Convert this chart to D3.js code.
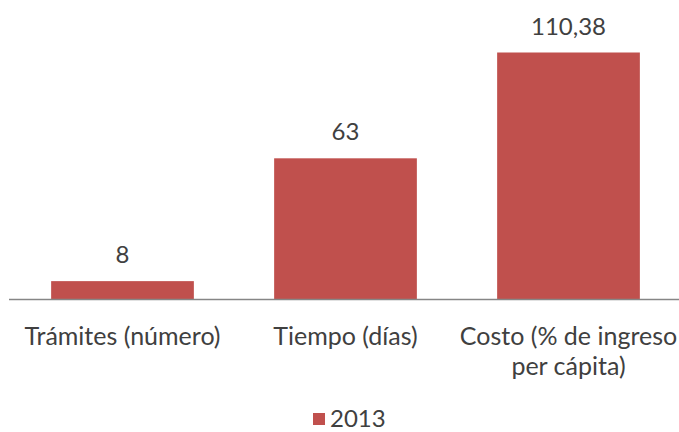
<!DOCTYPE html>
<html>
<head>
<meta charset="utf-8">
<script src="https://cdnjs.cloudflare.com/ajax/libs/d3/7.8.5/d3.min.js"></script>
<style>
  body { margin: 0; background: #fff; }
  svg text { font-family: Lato, "Open Sans", sans-serif; fill: #404040; }
</style>
</head>
<body>
<svg id="chart" width="679" height="432"></svg>
<script>
// chart data
var categories = [["Trámites (número)"], ["Tiempo (días)"], ["Costo (% de ingreso", "per cápita)"]];
var values = [8, 63, 110.38];
var labels = ["8", "63", "110,38"];
var seriesName = "2013";

var svg = d3.select("#chart"),
    left = 11,
    right = 680,
    baseY = 299,
    topY = 52.5;

var x = d3.scaleBand()
    .domain(d3.range(values.length))
    .range([left, right])
    .paddingInner(0.36)
    .paddingOuter(0.18);

var y = d3.scaleLinear()
    .domain([0, 110.38])
    .range([baseY, topY]);

var color = "#C0504D";

// bars
svg.append("g").selectAll("rect")
    .data(values)
    .enter()
    .append("rect")
    .attr("x", function(d, i){ return x(i); })
    .attr("y", function(d){ return y(d); })
    .attr("width", x.bandwidth())
    .attr("height", function(d){ return baseY - y(d); })
    .style("fill", color);

// value labels
svg.append("g").selectAll("text")
    .data(values)
    .enter()
    .append("text")
    .attr("x", function(d, i){ return x(i) + x.bandwidth()/2; })
    .attr("y", function(d){ return y(d) - 18; })
    .attr("text-anchor", "middle")
    .style("font-size", "24px")
    .text(function(d, i){ return labels[i]; });

// x axis line
svg.append("line")
    .attr("x1", left - 2).attr("x2", right)
    .attr("y1", baseY + 0.5).attr("y2", baseY + 0.5)
    .style("stroke", "#868686")
    .style("stroke-width", 1.5);

// category labels
var cat = svg.append("g").selectAll("text")
    .data(categories)
    .enter()
    .append("text")
    .attr("x", function(d, i){ return x(i) + x.bandwidth()/2; })
    .attr("y", 345)
    .attr("text-anchor", "middle")
    .style("font-size", "25px");

cat.selectAll("tspan")
    .data(function(d){ return d; })
    .enter()
    .append("tspan")
    .attr("x", function(){ return d3.select(this.parentNode).attr("x"); })
    .attr("dy", function(d, i){ return i == 0 ? 0 : 30; })
    .text(function(d){ return d; });

// legend
var legend = svg.append("g").attr("transform", "translate(313,413)");
legend.append("rect")
    .attr("width", 12).attr("height", 12)
    .style("fill", color);
legend.append("text")
    .attr("x", 17).attr("y", 14)
    .style("font-size", "24px")
    .text(seriesName);
</script>
</body>
</html>
